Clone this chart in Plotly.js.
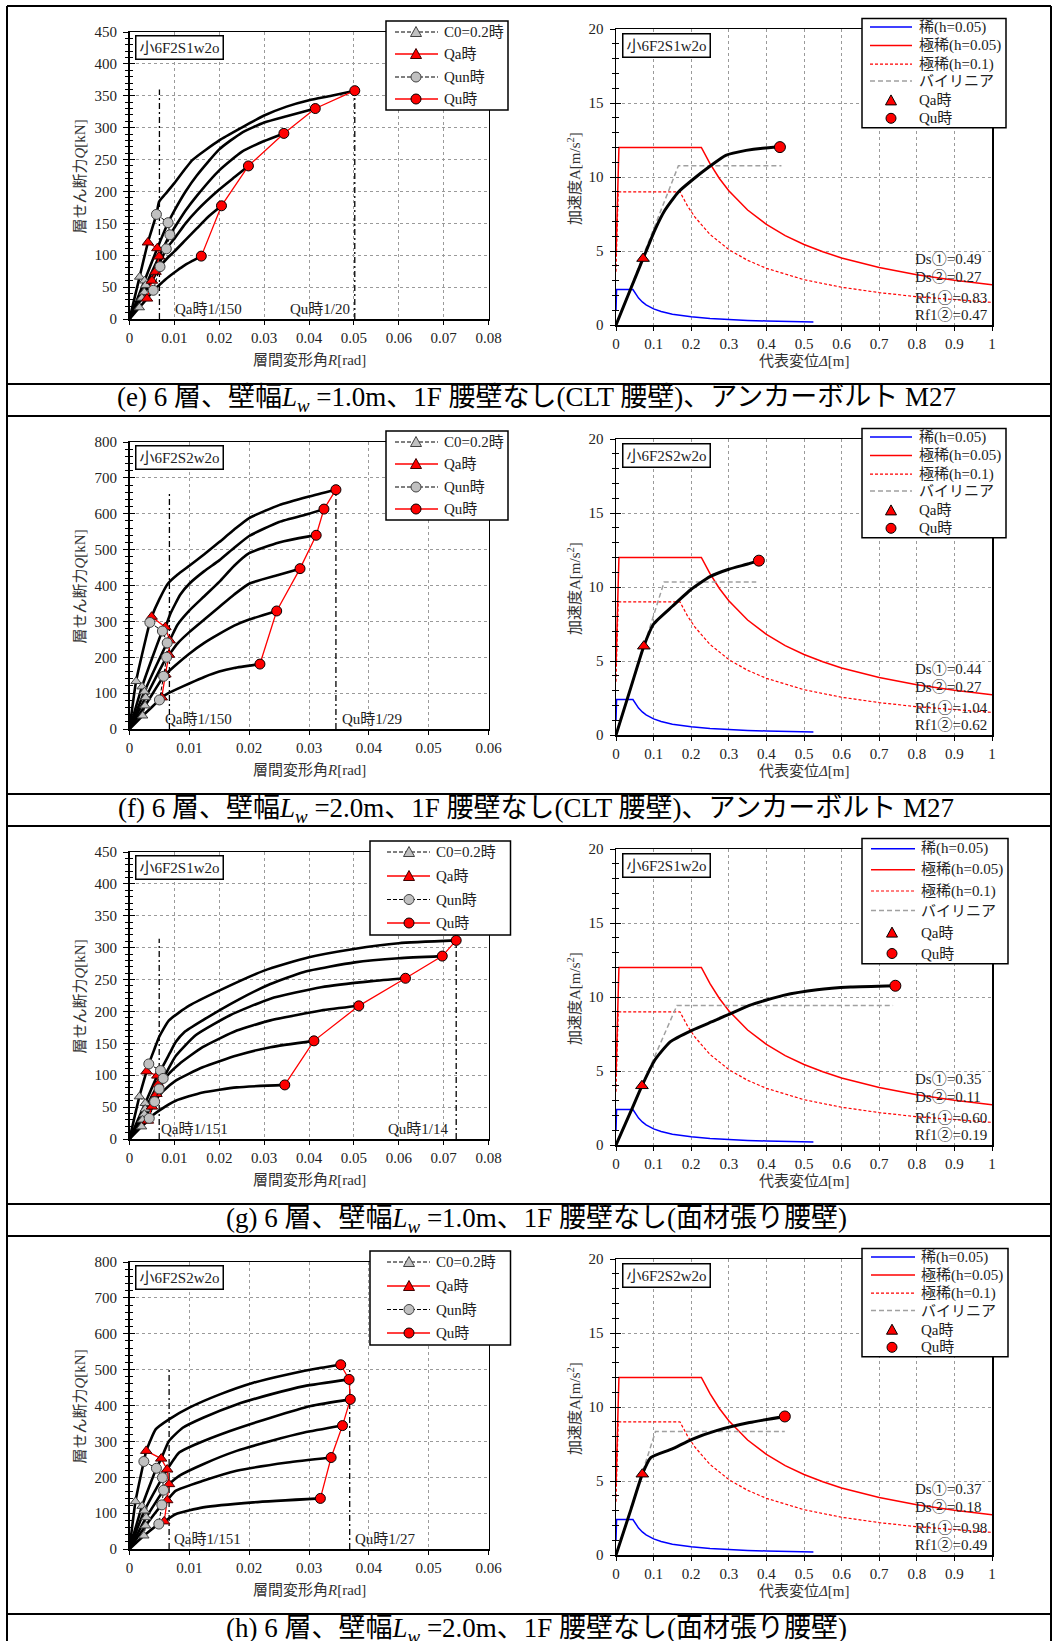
<!DOCTYPE html>
<html><head><meta charset="utf-8">
<script src="https://cdn.plot.ly/plotly-3.0.1.min.js"></script>
<style>html,body{margin:0;padding:0;background:#fff;}#chart{width:1057px;height:1641px;}</style>
</head><body><div id="chart"></div>
<script>
// ================= DATA =================
// ---- (e) left: story shear vs drift ----
const e_curveR = [
 [0,0.00225,0.0041,0.006,0.0066,0.008,0.01,0.014,0.02,0.025,0.03,0.035,0.04,0.045,0.0502],
 [0,0.00335,0.0062,0.0086,0.01,0.0125,0.015,0.02,0.025,0.03,0.035,0.0414],
 [0,0.0036,0.0066,0.009,0.01,0.0125,0.015,0.02,0.025,0.03,0.0344],
 [0,0.0033,0.0058,0.0082,0.01,0.0125,0.015,0.02,0.0235,0.0265],
 [0,0.00275,0.005,0.0068,0.0085,0.01,0.0125,0.015,0.0175,0.0205],
 [0,0.0022,0.0039,0.0053,0.0066,0.008,0.01,0.012,0.014,0.016]];
const e_curveQ = [
 [0,66,120,164,184,196,213,249,280,300,319,333,343,350,358],
 [0,60,111,151,170,200,225,266,292,308,318,330],
 [0,53,98,132,143,170,193,233,262,279,291],
 [0,42,74,110,126,150,170,203,223,240],
 [0,33,60,82,96,106,124,142,160,177.5],
 [0,18,32,45,53,62,73,83,91,98.6]];
const e_c0R = [0.00225,0.00335,0.0036,0.0033,0.00275,0.0022], e_c0Q = [66,60,53,42,33,18];
const e_qaR = [0.0041,0.0062,0.0066,0.0058,0.005,0.0039], e_qaQ = [120,111,98,74,60,32];
const e_qunR = [0.006,0.0086,0.009,0.0082,0.0068,0.0053], e_qunQ = [164,151,132,110,82,45];
const e_quR = [0.0502,0.0414,0.0344,0.0265,0.0205,0.016], e_quQ = [358,330,291,240,177.5,98.6];
const e_limR = [0.00667,0.0502], e_limTop = [360,360];
const e_limText = ['Qa時1/150','Qu時1/20'];
// ---- (e) right: capacity spectrum ----
const e_capD = [0,0.04,0.072,0.103,0.13,0.166,0.202,0.247,0.292,0.346,0.39,0.436];
const e_capA = [0,2.5,4.49,6.4,7.75,8.99,9.78,10.67,11.46,11.8,11.95,12.02];
const e_biD = [0,0.166,0.44], e_biA = [0,10.76,10.76];
const e_qaPt = [0.072,4.49], e_quPt = [0.436,12.02];
const e_ds = ['Ds①=0.49','Ds②=0.27','Rf1①=0.83','Rf1②=0.47'];
const e_label = '小6F2S1w2o';

// ---- (f) ----
const f_curveR = [
 [0,0.0011,0.0027,0.0034,0.0037,0.005,0.0064,0.008,0.01,0.0125,0.015,0.0175,0.02,0.025,0.03,0.0345],
 [0,0.0021,0.0055,0.006,0.0068,0.0085,0.01,0.0125,0.015,0.0175,0.02,0.025,0.03,0.0325],
 [0,0.0025,0.0063,0.0067,0.008,0.01,0.0125,0.015,0.0175,0.02,0.025,0.03,0.0312],
 [0,0.0027,0.0062,0.0066,0.008,0.01,0.0125,0.015,0.0175,0.02,0.025,0.0285],
 [0,0.0026,0.0057,0.006,0.0075,0.01,0.0125,0.015,0.0175,0.02,0.0246],
 [0,0.0022,0.005,0.0054,0.0065,0.008,0.01,0.0125,0.015,0.0175,0.0218]];
const f_curveQ = [
 [0,133,250,297,313,362,405,430,455,487,521,556,588,624,648,667],
 [0,118,273,284,320,375,405,440,470,505,538,577,600,613],
 [0,104,240,247,290,330,370,410,455,490,520,537,540],
 [0,88,200,207,238,270,305,340,375,405,430,447],
 [0,65,147,152,175,210,240,265,288,305,329],
 [0,37,81,88,100,112,127,145,160,170,181]];
const f_c0R = [0.0011,0.0021,0.0025,0.0027,0.0026,0.0022], f_c0Q = [133,118,104,88,65,37];
const f_qaR = [0.0037,0.006,0.0067,0.0066,0.006,0.0054], f_qaQ = [313,284,247,207,152,88];
const f_qunR = [0.0034,0.0055,0.0063,0.0062,0.0057,0.005], f_qunQ = [297,273,240,200,147,81];
const f_quR = [0.0345,0.0325,0.0312,0.0285,0.0246,0.0218], f_quQ = [667,613,540,447,329,181];
const f_limR = [0.00667,0.0345], f_limTop = [660,660];
const f_limText = ['Qa時1/150','Qu時1/29'];
const f_capD = [0,0.04,0.074,0.1,0.15,0.2,0.25,0.3,0.35,0.38];
const f_capA = [0,3.25,6.0,7.5,8.7,9.85,10.7,11.2,11.55,11.78];
const f_biD = [0,0.128,0.373], f_biA = [0,10.34,10.34];
const f_qaPt = [0.074,6.0], f_quPt = [0.38,11.78];
const f_ds = ['Ds①=0.44','Ds②=0.27','Rf1①=1.04','Rf1②=0.62'];
const f_label = '小6F2S2w2o';

// ---- (g) ----
const g_curveR = [
 [0,0.0022,0.0038,0.0043,0.0055,0.0066,0.0088,0.0133,0.0201,0.03,0.04,0.05,0.06,0.0728],
 [0,0.0035,0.0062,0.0069,0.009,0.0103,0.0122,0.0163,0.0239,0.0314,0.0389,0.0502,0.06,0.0697],
 [0,0.0035,0.0064,0.0075,0.0103,0.0148,0.0224,0.0314,0.0427,0.054,0.0615],
 [0,0.0033,0.006,0.0066,0.0085,0.0111,0.0163,0.0239,0.0314,0.0427,0.0511],
 [0,0.0029,0.005,0.0056,0.0075,0.0103,0.0163,0.0239,0.0314,0.0411],
 [0,0.0027,0.0041,0.0044,0.0066,0.0103,0.0163,0.0239,0.0346]];
const g_curveQ = [
 [0,66.5,106,117.7,140,160,186,209,233,264,285,298,307,311.4],
 [0,56,99.4,107.3,135,152,167.5,186,217,243,262,277,283.5,286.8],
 [0,47,86,95,130,163,194,220,238,247.5,252],
 [0,39,70.6,78.5,100,117.7,144,170,186,201.5,208.8],
 [0,30,50.8,58.6,75,91.6,112.5,131,144,153.9],
 [0,19.4,28.8,32.4,44.5,60,73,81,84.8]];
const g_c0R = [0.0022,0.0035,0.0035,0.0033,0.0029,0.0027], g_c0Q = [66.5,56,47,39,30,19.4];
const g_qaR = [0.0038,0.0062,0.0064,0.006,0.005,0.0041], g_qaQ = [106,99.4,86,70.6,50.8,28.8];
const g_qunR = [0.0043,0.0069,0.0075,0.0066,0.0056,0.0044], g_qunQ = [117.7,107.3,95,78.5,58.6,32.4];
const g_quR = [0.0728,0.0697,0.0615,0.0511,0.0411,0.0346], g_quQ = [311.4,286.8,252,208.8,153.9,84.8];
const g_limR = [0.00662,0.0728], g_limTop = [314,314];
const g_limText = ['Qa時1/151','Qu時1/14'];
const g_capD = [0,0.04,0.069,0.103,0.144,0.202,0.265,0.355,0.445,0.535,0.624,0.743];
const g_capA = [0,2.3,4.0,5.73,6.97,7.75,8.43,9.44,10.11,10.49,10.67,10.76];
const g_biD = [0,0.162,0.737], g_biA = [0,9.42,9.42];
const g_qaPt = [0.069,4.0], g_quPt = [0.743,10.76];
const g_ds = ['Ds①=0.35','Ds②=0.11','Rf1①=0.60','Rf1②=0.19'];
const g_label = '小6F2S1w2o';

// ---- (h) ----
const h_curveR = [
 [0,0.001,0.0024,0.0028,0.0044,0.0066,0.01,0.0151,0.0207,0.0264,0.032,0.0353],
 [0,0.0021,0.0045,0.0053,0.0066,0.0089,0.0123,0.0179,0.0236,0.0292,0.0367],
 [0,0.0025,0.0055,0.0063,0.0083,0.0111,0.0168,0.0236,0.0303,0.0369],
 [0,0.0028,0.0057,0.0066,0.0083,0.0123,0.0179,0.0236,0.0292,0.0356],
 [0,0.0027,0.0054,0.0063,0.0077,0.0123,0.0179,0.0264,0.0337],
 [0,0.0024,0.0049,0.0058,0.0077,0.0123,0.0207,0.0319]];
const h_curveQ = [
 [0,132.6,244,273.5,334,361.5,394,431,463.5,486.7,505,513.6],
 [0,119.6,225,252,301,338,366,403,431,454,472.8],
 [0,106.6,199,221.6,268.8,292,329,366,398.6,417],
 [0,88,164,180.8,204,236.4,273.5,301,324.5,344],
 [0,65,123,136,162,190,218,241,255],
 [0,37,69.5,77,97,116,130,141]];
const h_c0R = [0.001,0.0021,0.0025,0.0028,0.0027,0.0024], h_c0Q = [132.6,119.6,106.6,88,65,37];
const h_qaR = [0.0028,0.0053,0.0063,0.0066,0.0063,0.0058], h_qaQ = [273.5,252,221.6,180.8,136,77];
const h_qunR = [0.0024,0.0045,0.0055,0.0057,0.0054,0.0049], h_qunQ = [244,225,199,164,123,69.5];
const h_quR = [0.0353,0.0367,0.0369,0.0356,0.0337,0.0319], h_quQ = [513.6,472.8,417,344,255,141];
const h_limR = [0.00662,0.0368], h_limTop = [505,505];
const h_limText = ['Qa時1/151','Qu時1/27'];
const h_capD = [0,0.04,0.07,0.0925,0.148,0.202,0.265,0.355,0.449];
const h_capA = [0,3.1,5.46,6.58,7.15,7.82,8.39,8.95,9.36];
const h_biD = [0,0.105,0.449], h_biA = [0,8.34,8.34];
const h_qaPt = [0.07,5.46], h_quPt = [0.449,9.36];
const h_ds = ['Ds①=0.37','Ds②=0.18','Rf1①=0.98','Rf1②=0.49'];
const h_label = '小6F2S2w2o';

// ---- shared demand spectra ----
const rareD = [0,0.0015,0.045,0.05,0.06,0.07,0.08,0.1,0.12,0.15,0.2,0.25,0.3,0.35,0.4,0.45,0.5,0.525];
const rareA = [0.96,2.4,2.4,2.18,1.82,1.56,1.36,1.09,0.91,0.73,0.55,0.44,0.36,0.31,0.27,0.24,0.22,0.21];
const maxD = [0,0.0078,0.227,0.25,0.275,0.3,0.35,0.4,0.45,0.5,0.55,0.6,0.7,0.8,0.9,1.0];
const maxA = [4.8,12.0,12.0,10.9,9.9,9.07,7.77,6.8,6.04,5.44,4.95,4.53,3.89,3.4,3.02,2.72];
const max10D = [0,0.0058,0.17,0.19,0.21,0.25,0.3,0.35,0.4,0.5,0.6,0.7,0.8,0.9,1.0];
const max10A = [3.6,9.0,9.0,8.05,7.29,6.12,5.1,4.37,3.83,3.06,2.55,2.19,1.91,1.7,1.53];

// ---- axes / text ----
const leftXMax = [0.08,0.06,0.08,0.06];
const leftYMax = [450,800,450,800];
const leftYTick = [50,100,50,100];
const leftYMinor = [10,20,10,20];
const limTextY = [15,28,15.7,28];
const qaTextX = [0.0097,0.00565,0.00655,0.00706];
const quTextX = [0.0495,0.0351,0.0717,0.0374];
const quTextAnchor = ['right','left','right','left'];
const dsY = [4.43,3.26,1.84,0.67];
const captions = [
 '(e) 6 層、壁幅<i>L</i><sub><i>w</i></sub> =1.0m、1F 腰壁なし(CLT 腰壁)、アンカーボルト M27',
 '(f) 6 層、壁幅<i>L</i><sub><i>w</i></sub> =2.0m、1F 腰壁なし(CLT 腰壁)、アンカーボルト M27',
 '(g) 6 層、壁幅<i>L</i><sub><i>w</i></sub> =1.0m、1F 腰壁なし(面材張り腰壁)',
 '(h) 6 層、壁幅<i>L</i><sub><i>w</i></sub> =2.0m、1F 腰壁なし(面材張り腰壁)'];
const leftLegendLabels = ['C0=0.2時','Qa時','Qun時','Qu時'];
const rightLegendLabels = ['稀(h=0.05)','極稀(h=0.05)','極稀(h=0.1)','バイリニア','Qa時','Qu時'];

// ================= BUILD =================
const panels = [
 {cR:e_curveR,cQ:e_curveQ,c0R:e_c0R,c0Q:e_c0Q,qaR:e_qaR,qaQ:e_qaQ,qunR:e_qunR,qunQ:e_qunQ,quR:e_quR,quQ:e_quQ,limR:e_limR,limTop:e_limTop,limText:e_limText,capD:e_capD,capA:e_capA,biD:e_biD,biA:e_biA,qaPt:e_qaPt,quPt:e_quPt,ds:e_ds,label:e_label},
 {cR:f_curveR,cQ:f_curveQ,c0R:f_c0R,c0Q:f_c0Q,qaR:f_qaR,qaQ:f_qaQ,qunR:f_qunR,qunQ:f_qunQ,quR:f_quR,quQ:f_quQ,limR:f_limR,limTop:f_limTop,limText:f_limText,capD:f_capD,capA:f_capA,biD:f_biD,biA:f_biA,qaPt:f_qaPt,quPt:f_quPt,ds:f_ds,label:f_label},
 {cR:g_curveR,cQ:g_curveQ,c0R:g_c0R,c0Q:g_c0Q,qaR:g_qaR,qaQ:g_qaQ,qunR:g_qunR,qunQ:g_qunQ,quR:g_quR,quQ:g_quQ,limR:g_limR,limTop:g_limTop,limText:g_limText,capD:g_capD,capA:g_capA,biD:g_biD,biA:g_biA,qaPt:g_qaPt,quPt:g_quPt,ds:g_ds,label:g_label},
 {cR:h_curveR,cQ:h_curveQ,c0R:h_c0R,c0Q:h_c0Q,qaR:h_qaR,qaQ:h_qaQ,qunR:h_qunR,qunQ:h_qunQ,quR:h_quR,quQ:h_quQ,limR:h_limR,limTop:h_limTop,limText:h_limText,capD:h_capD,capA:h_capA,biD:h_biD,biA:h_biA,qaPt:h_qaPt,quPt:h_quPt,ds:h_ds,label:h_label}
];

const W = 1057, H = 1641, ROWH = 410;
const PX = x => x / W, PY = y => 1 - y / H;
const FONT = 'Liberation Serif, Noto Sans CJK JP, serif';
const GEO_L = {x0:129.5, x1:488.5, top:32, bot:319};
const GEO_R = {x0:616, x1:992, top:29, bot:325};

const traces = [];
const layout = {width:W, height:H, margin:{l:0,r:0,t:0,b:0}, paper_bgcolor:'white', plot_bgcolor:'white',
  showlegend:false, shapes:[], annotations:[], font:{family:FONT, color:'#222'}};

function baseAxis(extra){
  return Object.assign({showgrid:true, gridcolor:'#9a9a9a', griddash:'dot', gridwidth:1, zeroline:false,
    showline:true, mirror:true, linecolor:'black', linewidth:1.5, ticks:'outside', ticklen:5, tickwidth:1,
    tickcolor:'black', tickfont:{family:FONT,size:15,color:'#222'}, fixedrange:true, tick0:0}, extra);
}
function sfx(n){ return n===1 ? '' : String(n); }

function addLegend(off, geo, entries){
  const s = layout.shapes, a = layout.annotations;
  s.push({type:'rect', xref:'paper', yref:'paper', x0:PX(geo.box[0]), x1:PX(geo.box[2]), y0:PY(geo.box[1]+off), y1:PY(geo.box[3]+off),
    fillcolor:'white', line:{color:'black', width:1.5}, layer:'above'});
  entries.forEach((en, k) => {
    const y = geo.ys[k] + off;
    if (en.lc) s.push({type:'line', xref:'paper', yref:'paper', x0:PX(geo.lx[0]), x1:PX(geo.lx[1]), y0:PY(y), y1:PY(y),
      line:{color:en.lc, width:en.lw, dash:en.ld}, layer:'above'});
    const m = geo.mx, r = 5;
    if (en.m === 'cir') s.push({type:'circle', xref:'paper', yref:'paper', x0:PX(m-r), x1:PX(m+r), y0:PY(y+r), y1:PY(y-r),
      fillcolor:en.mc, line:{color:en.me, width:1}, layer:'above'});
    if (en.m === 'tri') s.push({type:'path', xref:'paper', yref:'paper',
      path:`M ${PX(m-5.5)},${PY(y+4.5)} L ${PX(m+5.5)},${PY(y+4.5)} L ${PX(m)},${PY(y-5.5)} Z`,
      fillcolor:en.mc, line:{color:en.me, width:1}, layer:'above'});
    a.push({xref:'paper', yref:'paper', x:PX(geo.tx), y:PY(y), xanchor:'left', yanchor:'middle', showarrow:false,
      text:en.t, font:{family:FONT, size:15, color:'#222'}});
  });
}

const LEG_GEO_L = [
 {box:[386,21,508,110], ys:[32,54,77,99], lx:[395,438], mx:416, tx:442},
 {box:[386,21,508,110], ys:[32,54,77,99], lx:[395,438], mx:416, tx:442},
 {box:[370,21,510.5,115], ys:[32,56,79.5,103], lx:[387,430], mx:409, tx:434},
 {box:[370,21,510.5,115], ys:[32,56,79.5,103], lx:[387,430], mx:409, tx:434}];
const LEG_GEO_R = [
 {box:[862,18.6,1006,127.8], ys:[27,45.6,64.2,81.1,100.4,118.3], lx:[870,912], mx:891, tx:917},
 {box:[862,18.6,1006,127.8], ys:[27,45.6,64.2,81.1,100.4,118.3], lx:[870,912], mx:891, tx:917},
 {box:[862,18.6,1008,143.7], ys:[28.7,49.7,71,90.6,112.6,133.5], lx:[871,915], mx:892, tx:919},
 {box:[862,18.6,1008,126.8], ys:[27,45,63.2,80.5,99.7,117.3], lx:[871,915], mx:892, tx:919}];

const legStyleL = [
 {lc:'black', ld:'4px,2px', lw:1, m:'tri', mc:'#c0c0c0', me:'#404040'},
 {lc:'red', ld:'solid', lw:1.3, m:'tri', mc:'red', me:'#400000'},
 {lc:'black', ld:'4px,2px', lw:1, m:'cir', mc:'#c0c0c0', me:'#404040'},
 {lc:'red', ld:'solid', lw:1.3, m:'cir', mc:'red', me:'black'}];
const legStyleR = [
 {lc:'blue', ld:'solid', lw:1.5},
 {lc:'red', ld:'solid', lw:1.5},
 {lc:'red', ld:'3px,2px', lw:1.2},
 {lc:'#a0a0a0', ld:'5px,3px', lw:1.5},
 {m:'tri', mc:'red', me:'black'},
 {m:'cir', mc:'red', me:'black'}];

panels.forEach((p, i) => {
  const off = i * ROWH;
  const nL = 2*i+1, nR = 2*i+2;
  const xL = 'x'+sfx(nL), yL = 'y'+sfx(nL), xR = 'x'+sfx(nR), yR = 'y'+sfx(nR);
  const oL = 9 + 2*i, oR = 10 + 2*i;

  // ---- axes ----
  layout['xaxis'+sfx(nL)] = baseAxis({domain:[PX(GEO_L.x0), PX(GEO_L.x1)], range:[0, leftXMax[i]], dtick:0.01, anchor:yL, ticklen:4});
  layout['yaxis'+sfx(nL)] = baseAxis({domain:[PY(GEO_L.bot+off), PY(GEO_L.top+off)], range:[0, leftYMax[i]], dtick:leftYTick[i], anchor:xL,
    ticklabelstandoff:3, minor:{ticks:'outside', ticklen:3, dtick:leftYMinor[i], tick0:0, showgrid:false, tickcolor:'black'}});
  layout['yaxis'+oL] = {overlaying:yL, anchor:xL, side:'left', range:[0, leftYMax[i]], dtick:leftYTick[i], tick0:0,
    showgrid:false, zeroline:false, showline:false, showticklabels:false, ticks:'inside', ticklen:5, tickcolor:'black', fixedrange:true,
    minor:{ticks:'inside', ticklen:3, dtick:leftYMinor[i], tick0:0, showgrid:false, tickcolor:'black'}};
  layout['xaxis'+sfx(nR)] = baseAxis({domain:[PX(GEO_R.x0), PX(GEO_R.x1)], range:[0, 1], dtick:0.1, anchor:yR, ticklen:4});
  layout['yaxis'+sfx(nR)] = baseAxis({domain:[PY(GEO_R.bot+off), PY(GEO_R.top+off)], range:[0, 20], dtick:5, anchor:xR,
    ticklabelstandoff:3, minor:{ticks:'outside', ticklen:3, dtick:1, tick0:0, showgrid:false, tickcolor:'black'}});
  layout['yaxis'+oR] = {overlaying:yR, anchor:xR, side:'left', range:[0, 20], dtick:5, tick0:0,
    showgrid:false, zeroline:false, showline:false, showticklabels:false, ticks:'inside', ticklen:5, tickcolor:'black', fixedrange:true,
    minor:{ticks:'inside', ticklen:3, dtick:1, tick0:0, showgrid:false, tickcolor:'black'}};
  traces.push({x:[null], y:[null], xaxis:xL, yaxis:'y'+oL, mode:'lines', hoverinfo:'skip'});
  traces.push({x:[null], y:[null], xaxis:xR, yaxis:'y'+oR, mode:'lines', hoverinfo:'skip'});

  // ---- left traces ----
  p.limR.forEach((r, j) => traces.push({x:[r, r], y:[0, p.limTop[j]], xaxis:xL, yaxis:yL, mode:'lines',
    line:{color:'black', width:1.3, dash:'6px,3px,2px,3px'}, hoverinfo:'skip'}));
  p.cR.forEach((r, j) => traces.push({x:r, y:p.cQ[j], xaxis:xL, yaxis:yL, mode:'lines',
    line:{color:'black', width:2.6, shape:'spline', smoothing:0.5}, hoverinfo:'skip'}));
  traces.push({x:p.c0R, y:p.c0Q, xaxis:xL, yaxis:yL, mode:'lines+markers', line:{color:'black', width:1, dash:'4px,2px'},
    marker:{symbol:'triangle-up', size:9, color:'#c0c0c0', line:{color:'#404040', width:1}}, hoverinfo:'skip'});
  traces.push({x:p.qaR, y:p.qaQ, xaxis:xL, yaxis:yL, mode:'lines+markers', line:{color:'red', width:1.3},
    marker:{symbol:'triangle-up', size:10, color:'red', line:{color:'#400000', width:1}}, hoverinfo:'skip'});
  traces.push({x:p.qunR, y:p.qunQ, xaxis:xL, yaxis:yL, mode:'lines+markers', line:{color:'black', width:1, dash:'4px,2px'},
    marker:{symbol:'circle', size:10, color:'#c0c0c0', line:{color:'#404040', width:1}}, hoverinfo:'skip'});
  traces.push({x:p.quR, y:p.quQ, xaxis:xL, yaxis:yL, mode:'lines+markers', line:{color:'red', width:1.3},
    marker:{symbol:'circle', size:10, color:'red', line:{color:'black', width:1}}, hoverinfo:'skip'});

  // ---- right traces ----
  traces.push({x:rareD, y:rareA, xaxis:xR, yaxis:yR, mode:'lines', line:{color:'blue', width:1.5}, hoverinfo:'skip'});
  traces.push({x:maxD, y:maxA, xaxis:xR, yaxis:yR, mode:'lines', line:{color:'red', width:1.5}, hoverinfo:'skip'});
  traces.push({x:max10D, y:max10A, xaxis:xR, yaxis:yR, mode:'lines', line:{color:'red', width:1.2, dash:'3px,2px'}, hoverinfo:'skip'});
  traces.push({x:p.biD, y:p.biA, xaxis:xR, yaxis:yR, mode:'lines', line:{color:'#a0a0a0', width:1.5, dash:'5px,3px'}, hoverinfo:'skip'});
  traces.push({x:p.capD, y:p.capA, xaxis:xR, yaxis:yR, mode:'lines', line:{color:'black', width:3, shape:'spline', smoothing:0.5}, hoverinfo:'skip'});
  traces.push({x:[p.qaPt[0]], y:[p.qaPt[1]], xaxis:xR, yaxis:yR, mode:'markers',
    marker:{symbol:'triangle-up', size:11, color:'red', line:{color:'black', width:1}}, hoverinfo:'skip'});
  traces.push({x:[p.quPt[0]], y:[p.quPt[1]], xaxis:xR, yaxis:yR, mode:'markers',
    marker:{symbol:'circle', size:11, color:'red', line:{color:'black', width:1}}, hoverinfo:'skip'});

  // ---- annotations ----
  const A = layout.annotations;
  const boxLabel = (x, y) => A.push({xref:'paper', yref:'paper', x:PX(x), y:PY(y), xanchor:'left', yanchor:'top', showarrow:false,
    text:p.label, font:{family:FONT, size:15, color:'#222'}, bordercolor:'black', borderwidth:1.5, borderpad:3, bgcolor:'white'});
  boxLabel(135, 35+off);
  boxLabel(622, 33+off);
  A.push({xref:xL, yref:yL, x:qaTextX[i], y:limTextY[i], xanchor:'left', yanchor:'middle', showarrow:false,
    text:p.limText[0], font:{family:FONT, size:15, color:'#222'}});
  A.push({xref:xL, yref:yL, x:quTextX[i], y:limTextY[i], xanchor:quTextAnchor[i], yanchor:'middle', showarrow:false,
    text:p.limText[1], font:{family:FONT, size:15, color:'#222'}});
  p.ds.forEach((t, k) => A.push({xref:xR, yref:yR, x:0.79, y:dsY[k], xanchor:'left', yanchor:'middle', showarrow:false,
    text:t, font:{family:FONT, size:15, color:'#222'}}));
  // axis titles
  A.push({xref:'paper', yref:'paper', x:PX(79.5), y:PY(177+off), textangle:-90, showarrow:false, xanchor:'center', yanchor:'middle',
    text:'層せん断力<i>Q</i>[kN]', font:{family:FONT, size:15, color:'#333'}});
  A.push({xref:'paper', yref:'paper', x:PX(309), y:PY(360+off), showarrow:false, xanchor:'center', yanchor:'middle',
    text:'層間変形角<i>R</i>[rad]', font:{family:FONT, size:15, color:'#333'}});
  A.push({xref:'paper', yref:'paper', x:PX(574), y:PY(179+off), textangle:-90, showarrow:false, xanchor:'center', yanchor:'middle',
    text:'加速度A[m/s<sup>2</sup>]', font:{family:FONT, size:15, color:'#333'}});
  A.push({xref:'paper', yref:'paper', x:PX(804), y:PY(361+off), showarrow:false, xanchor:'center', yanchor:'middle',
    text:'代表変位<i>Δ</i>[m]', font:{family:FONT, size:15, color:'#333'}});
  // caption
  A.push({xref:'paper', yref:'paper', x:PX(536), y:PY(399.5+off), showarrow:false, xanchor:'center', yanchor:'middle',
    text:captions[i], font:{family:FONT, size:27, color:'black'}});

  // legends
  addLegend(off, LEG_GEO_L[i], leftLegendLabels.map((t, k) => Object.assign({t}, legStyleL[k])));
  addLegend(off, LEG_GEO_R[i], rightLegendLabels.map((t, k) => Object.assign({t}, legStyleR[k])));

  // caption band lines
  [384, 416].forEach(y => {
    if (y + off < H) layout.shapes.push({type:'line', xref:'paper', yref:'paper', x0:PX(7), x1:PX(1051), y0:PY(y+off), y1:PY(y+off),
      line:{color:'black', width:2}, layer:'above'});
  });
});

// outer frame
layout.shapes.push({type:'line', xref:'paper', yref:'paper', x0:PX(7), x1:PX(1051), y0:PY(6), y1:PY(6), line:{color:'black', width:2}});
layout.shapes.push({type:'line', xref:'paper', yref:'paper', x0:PX(7), x1:PX(7), y0:PY(6), y1:0, line:{color:'black', width:2}});
layout.shapes.push({type:'line', xref:'paper', yref:'paper', x0:PX(1051), x1:PX(1051), y0:PY(6), y1:0, line:{color:'black', width:2}});

Plotly.newPlot('chart', traces, layout, {displayModeBar:false, staticPlot:true});
</script>
</body></html>
